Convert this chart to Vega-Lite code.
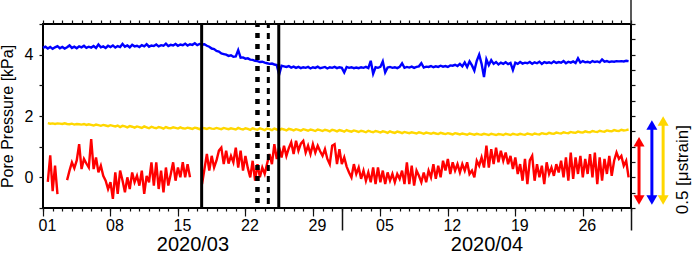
{
"$schema": "https://vega.github.io/schema/vega-lite/v6.json",
"width": 588, "height": 184,
"autosize": {"type": "none"},
"padding": {"left": 43, "top": 24, "right": 61, "bottom": 46},
"config": {
 "view": {"stroke": "black", "strokeWidth": 2},
 "axis": {"grid": false, "domain": false, "tickColor": "#111", "tickWidth": 1.2, "labelFont": "Liberation Sans", "labelFontSize": 16, "labelColor": "black", "titleFont": "Liberation Sans", "titleFontSize": 16, "titleFontWeight": "normal", "titleColor": "black", "labelFlush": false},
 "text": {"font": "Liberation Sans"}
},
"datasets": {
"series": [
{"t":"2020-03-01T00","b":4.22},
{"t":"2020-03-01T06","b":4.26},
{"t":"2020-03-01T12","r":-0.15,"b":4.2,"y":1.77},
{"t":"2020-03-01T18","r":0.72,"b":4.25,"y":1.75},
{"t":"2020-03-02T00","r":-0.45,"b":4.19,"y":1.76},
{"t":"2020-03-02T06","r":0.38,"b":4.24,"y":1.74},
{"t":"2020-03-02T12","r":-0.55,"b":4.28,"y":1.76},
{"t":"2020-03-02T18","b":4.21,"y":1.75},
{"t":"2020-03-03T00","b":4.25,"y":1.74},
{"t":"2020-03-03T06","b":4.2,"y":1.76},
{"t":"2020-03-03T12","r":-0.09,"b":4.24,"y":1.74},
{"t":"2020-03-03T18","r":0.22,"b":4.3,"y":1.73},
{"t":"2020-03-04T00","r":0.49,"b":4.22,"y":1.75},
{"t":"2020-03-04T06","r":0.3,"b":4.26,"y":1.72},
{"t":"2020-03-04T12","r":0.55,"b":4.21,"y":1.74},
{"t":"2020-03-04T18","r":1.08,"b":4.27,"y":1.73},
{"t":"2020-03-05T00","r":0.27,"b":4.24,"y":1.72},
{"t":"2020-03-05T06","r":0.6,"b":4.29,"y":1.74},
{"t":"2020-03-05T12","r":0.45,"b":4.22,"y":1.71},
{"t":"2020-03-05T18","r":0.32,"b":4.26,"y":1.73},
{"t":"2020-03-06T00","r":1.25,"b":4.23,"y":1.71},
{"t":"2020-03-06T06","r":0.27,"b":4.28,"y":1.69},
{"t":"2020-03-06T12","r":0.65,"b":4.22,"y":1.72},
{"t":"2020-03-06T18","r":0.16,"b":4.33,"y":1.7},
{"t":"2020-03-07T00","r":0.38,"b":4.24,"y":1.68},
{"t":"2020-03-07T06","r":0.05,"b":4.27,"y":1.71},
{"t":"2020-03-07T12","r":-0.11,"b":4.22,"y":1.69},
{"t":"2020-03-07T18","r":-0.38,"b":4.29,"y":1.67},
{"t":"2020-03-08T00","r":-0.16,"b":4.25,"y":1.7},
{"t":"2020-03-08T06","r":-0.7,"b":4.3,"y":1.68},
{"t":"2020-03-08T12","r":0.16,"b":4.23,"y":1.66},
{"t":"2020-03-08T18","r":-0.54,"b":4.28,"y":1.69},
{"t":"2020-03-09T00","r":0.22,"b":4.25,"y":1.64},
{"t":"2020-03-09T06","r":-0.1,"b":4.35,"y":1.68},
{"t":"2020-03-09T12","r":-0.49,"b":4.26,"y":1.66},
{"t":"2020-03-09T18","r":0,"b":4.3,"y":1.63},
{"t":"2020-03-10T00","r":-0.38,"b":4.24,"y":1.67},
{"t":"2020-03-10T06","r":0.16,"b":4.32,"y":1.65},
{"t":"2020-03-10T12","r":-0.16,"b":4.27,"y":1.62},
{"t":"2020-03-10T18","r":0.05,"b":4.29,"y":1.66},
{"t":"2020-03-11T00","r":-0.27,"b":4.25,"y":1.64},
{"t":"2020-03-11T06","r":0.22,"b":4.31,"y":1.61},
{"t":"2020-03-11T12","r":-0.54,"b":4.27,"y":1.66},
{"t":"2020-03-11T18","r":0.05,"b":4.34,"y":1.63},
{"t":"2020-03-12T00","r":-0.16,"b":4.26,"y":1.6},
{"t":"2020-03-12T06","r":0.49,"b":4.3,"y":1.65},
{"t":"2020-03-12T12","r":-0.27,"b":4.28,"y":1.62},
{"t":"2020-03-12T18","r":0.49,"b":4.33,"y":1.6},
{"t":"2020-03-13T00","r":-0.38,"b":4.27,"y":1.64},
{"t":"2020-03-13T06","r":0.22,"b":4.31,"y":1.62},
{"t":"2020-03-13T12","r":-0.49,"b":4.29,"y":1.59},
{"t":"2020-03-13T18","r":0.32,"b":4.36,"y":1.64},
{"t":"2020-03-14T00","r":-0.27,"b":4.28,"y":1.61},
{"t":"2020-03-14T06","r":0.1,"b":4.32,"y":1.6},
{"t":"2020-03-14T12","r":0.49,"b":4.3,"y":1.63},
{"t":"2020-03-14T18","r":-0.11,"b":4.35,"y":1.61},
{"t":"2020-03-15T00","r":0.32,"b":4.29,"y":1.59},
{"t":"2020-03-15T06","r":0,"b":4.33,"y":1.63},
{"t":"2020-03-15T12","r":0.49,"b":4.31,"y":1.6},
{"t":"2020-03-15T18","r":0,"b":4.36,"y":1.59},
{"t":"2020-03-16T00","r":0.43,"b":4.3,"y":1.62},
{"t":"2020-03-16T06","r":0,"b":4.34,"y":1.6},
{"t":"2020-03-16T12","b":4.32,"y":1.58},
{"t":"2020-03-16T18","b":4.37,"y":1.62},
{"t":"2020-03-17T00","b":4.31,"y":1.6},
{"t":"2020-03-17T06","b":4.35,"y":1.57},
{"t":"2020-03-17T12","r":-0.22,"b":4.33,"y":1.61},
{"t":"2020-03-17T18","r":0.27,"b":4.34,"y":1.6},
{"t":"2020-03-18T00","r":0.76,"b":4.29,"y":1.58},
{"t":"2020-03-18T06","r":0.22,"b":4.26,"y":1.61},
{"t":"2020-03-18T12","r":0.7,"b":4.2,"y":1.59},
{"t":"2020-03-18T18","r":0.32,"b":4.18,"y":1.58},
{"t":"2020-03-19T00","r":0.55,"b":4.12,"y":1.61},
{"t":"2020-03-19T06","r":0.87,"b":4.1,"y":1.59},
{"t":"2020-03-19T12","r":0.97,"b":4.04,"y":1.57},
{"t":"2020-03-19T18","r":0.43,"b":4.02,"y":1.61},
{"t":"2020-03-20T00","r":0.87,"b":4.0,"y":1.59},
{"t":"2020-03-20T06","r":0.45,"b":3.96,"y":1.57},
{"t":"2020-03-20T12","r":0.7,"b":3.98,"y":1.6},
{"t":"2020-03-20T18","r":0.49,"b":3.93,"y":1.58},
{"t":"2020-03-21T00","r":0.97,"b":3.94,"y":1.56},
{"t":"2020-03-21T06","r":0.32,"b":4.15,"y":1.61},
{"t":"2020-03-21T12","r":0.87,"b":3.9,"y":1.58},
{"t":"2020-03-21T18","r":0.22,"b":3.91,"y":1.56},
{"t":"2020-03-22T00","r":0.7,"b":3.87,"y":1.6},
{"t":"2020-03-22T06","r":0.3,"b":3.88,"y":1.58},
{"t":"2020-03-22T12","r":0,"b":3.84,"y":1.55},
{"t":"2020-03-22T18","r":0.54,"b":3.83,"y":1.6},
{"t":"2020-03-23T00","r":-0.11,"b":3.8,"y":1.57},
{"t":"2020-03-23T06","r":0.43,"b":3.79,"y":1.55},
{"t":"2020-03-23T12","r":0,"b":3.76,"y":1.6},
{"t":"2020-03-23T18","r":0.32,"b":3.77,"y":1.57},
{"t":"2020-03-24T00","r":0.11,"b":3.74,"y":1.54},
{"t":"2020-03-24T06","r":0.45,"b":3.72,"y":1.59},
{"t":"2020-03-24T12","r":0.76,"b":3.7,"y":1.57},
{"t":"2020-03-24T18","r":0.43,"b":3.71,"y":1.54},
{"t":"2020-03-25T00","r":1.08,"b":3.68,"y":1.59},
{"t":"2020-03-25T06","r":0.6,"b":3.66,"y":1.56},
{"t":"2020-03-25T12","r":0.97,"b":3.35,"y":1.54},
{"t":"2020-03-25T18","r":0.65,"b":3.64,"y":1.58},
{"t":"2020-03-26T00","r":1.03,"b":3.62,"y":1.56},
{"t":"2020-03-26T06","r":0.7,"b":3.6,"y":1.53},
{"t":"2020-03-26T12","r":0.95,"b":3.63,"y":1.58},
{"t":"2020-03-26T18","r":1.14,"b":3.58,"y":1.56},
{"t":"2020-03-27T00","r":0.76,"b":3.61,"y":1.53},
{"t":"2020-03-27T06","r":1.19,"b":3.57,"y":1.57},
{"t":"2020-03-27T12","r":0.87,"b":3.6,"y":1.55},
{"t":"2020-03-27T18","r":1.1,"b":3.56,"y":1.52},
{"t":"2020-03-28T00","r":1.19,"b":3.59,"y":1.57},
{"t":"2020-03-28T06","r":0.81,"b":3.57,"y":1.55},
{"t":"2020-03-28T12","r":1.03,"b":3.6,"y":1.52},
{"t":"2020-03-28T18","r":0.76,"b":3.55,"y":1.56},
{"t":"2020-03-29T00","r":1.08,"b":3.59,"y":1.54},
{"t":"2020-03-29T06","r":0.81,"b":3.57,"y":1.51},
{"t":"2020-03-29T12","r":1.03,"b":3.61,"y":1.56},
{"t":"2020-03-29T18","r":0.85,"b":3.56,"y":1.54},
{"t":"2020-03-30T00","r":0.7,"b":3.58,"y":1.51},
{"t":"2020-03-30T06","r":0.92,"b":3.6,"y":1.55},
{"t":"2020-03-30T12","r":0.6,"b":3.55,"y":1.53},
{"t":"2020-03-30T18","r":0.43,"b":3.59,"y":1.5},
{"t":"2020-03-31T00","r":1.03,"b":3.57,"y":1.55},
{"t":"2020-03-31T06","r":1.08,"b":3.6,"y":1.53},
{"t":"2020-03-31T12","r":0.43,"b":3.56,"y":1.5},
{"t":"2020-03-31T18","r":0.92,"b":3.59,"y":1.54},
{"t":"2020-04-01T00","r":0.43,"b":3.57,"y":1.52},
{"t":"2020-04-01T06","r":0.65,"b":3.42,"y":1.49},
{"t":"2020-04-01T12","r":0.35,"b":3.6,"y":1.54},
{"t":"2020-04-01T18","r":0.16,"b":3.57,"y":1.51},
{"t":"2020-04-02T00","r":0,"b":3.59,"y":1.49},
{"t":"2020-04-02T06","r":0.43,"b":3.56,"y":1.53},
{"t":"2020-04-02T12","r":0.11,"b":3.58,"y":1.51},
{"t":"2020-04-02T18","r":0.32,"b":3.56,"y":1.48},
{"t":"2020-04-03T00","r":-0.05,"b":3.59,"y":1.52},
{"t":"2020-04-03T06","r":0.22,"b":3.57,"y":1.5},
{"t":"2020-04-03T12","r":-0.11,"b":3.6,"y":1.47},
{"t":"2020-04-03T18","r":0.16,"b":3.56,"y":1.52},
{"t":"2020-04-04T00","r":-0.16,"b":3.8,"y":1.49},
{"t":"2020-04-04T06","r":0.32,"b":3.38,"y":1.47},
{"t":"2020-04-04T12","r":-0.22,"b":3.59,"y":1.51},
{"t":"2020-04-04T18","r":0.32,"b":3.57,"y":1.49},
{"t":"2020-04-05T00","r":-0.16,"b":3.6,"y":1.46},
{"t":"2020-04-05T06","r":0.22,"b":3.78,"y":1.5},
{"t":"2020-04-05T12","r":-0.22,"b":3.42,"y":1.48},
{"t":"2020-04-05T18","r":0.16,"b":3.58,"y":1.45},
{"t":"2020-04-06T00","r":-0.11,"b":3.6,"y":1.5},
{"t":"2020-04-06T06","r":0.11,"b":3.57,"y":1.47},
{"t":"2020-04-06T12","r":-0.16,"b":3.59,"y":1.45},
{"t":"2020-04-06T18","r":0.11,"b":3.56,"y":1.49},
{"t":"2020-04-07T00","r":-0.05,"b":3.6,"y":1.47},
{"t":"2020-04-07T06","r":0.22,"b":3.72,"y":1.44},
{"t":"2020-04-07T12","r":-0.22,"b":3.57,"y":1.48},
{"t":"2020-04-07T18","r":0.49,"b":3.6,"y":1.46},
{"t":"2020-04-08T00","r":-0.22,"b":3.58,"y":1.44},
{"t":"2020-04-08T06","r":0.38,"b":3.61,"y":1.47},
{"t":"2020-04-08T12","r":-0.27,"b":3.57,"y":1.45},
{"t":"2020-04-08T18","r":0.22,"b":3.6,"y":1.43},
{"t":"2020-04-09T00","r":0.05,"b":3.62,"y":1.47},
{"t":"2020-04-09T06","r":-0.16,"b":3.72,"y":1.45},
{"t":"2020-04-09T12","r":0.16,"b":3.58,"y":1.42},
{"t":"2020-04-09T18","r":-0.16,"b":3.61,"y":1.46},
{"t":"2020-04-10T00","r":0.22,"b":3.6,"y":1.44},
{"t":"2020-04-10T06","r":0,"b":3.63,"y":1.42},
{"t":"2020-04-10T12","r":0.43,"b":3.59,"y":1.45},
{"t":"2020-04-10T18","r":-0.05,"b":3.62,"y":1.43},
{"t":"2020-04-11T00","r":0.38,"b":3.6,"y":1.41},
{"t":"2020-04-11T06","r":0,"b":3.64,"y":1.45},
{"t":"2020-04-11T12","r":0.54,"b":3.61,"y":1.43},
{"t":"2020-04-11T18","r":0.22,"b":3.63,"y":1.41},
{"t":"2020-04-12T00","r":0.6,"b":3.6,"y":1.44},
{"t":"2020-04-12T06","r":0.11,"b":3.65,"y":1.42},
{"t":"2020-04-12T12","r":0.49,"b":3.64,"y":1.4},
{"t":"2020-04-12T18","r":0.22,"b":3.67,"y":1.44},
{"t":"2020-04-13T00","r":0.43,"b":3.63,"y":1.42},
{"t":"2020-04-13T06","r":0.16,"b":3.7,"y":1.4},
{"t":"2020-04-13T12","r":0.43,"b":3.62,"y":1.43},
{"t":"2020-04-13T18","r":0.22,"b":3.75,"y":1.41},
{"t":"2020-04-14T00","r":0.49,"b":3.6,"y":1.39},
{"t":"2020-04-14T06","r":0.11,"b":3.78,"y":1.43},
{"t":"2020-04-14T12","r":0.22,"b":3.65,"y":1.41},
{"t":"2020-04-14T18","r":0,"b":3.48,"y":1.39},
{"t":"2020-04-15T00","r":0.54,"b":3.8,"y":1.42},
{"t":"2020-04-15T06","r":0.38,"b":4.0,"y":1.4},
{"t":"2020-04-15T12","r":0.65,"b":3.7,"y":1.39},
{"t":"2020-04-15T18","r":0.32,"b":3.27,"y":1.42},
{"t":"2020-04-16T00","r":1.03,"b":3.85,"y":1.4},
{"t":"2020-04-16T06","r":0.32,"b":3.66,"y":1.38},
{"t":"2020-04-16T12","r":0.92,"b":3.82,"y":1.42},
{"t":"2020-04-16T18","r":0.43,"b":3.7,"y":1.4},
{"t":"2020-04-17T00","r":0.97,"b":3.76,"y":1.38},
{"t":"2020-04-17T06","r":0.49,"b":3.68,"y":1.41},
{"t":"2020-04-17T12","r":0.87,"b":3.74,"y":1.4},
{"t":"2020-04-17T18","r":0.54,"b":3.7,"y":1.38},
{"t":"2020-04-18T00","r":0.81,"b":3.75,"y":1.42},
{"t":"2020-04-18T06","r":0.43,"b":3.69,"y":1.4},
{"t":"2020-04-18T12","r":0.7,"b":3.73,"y":1.38},
{"t":"2020-04-18T18","r":0.27,"b":3.5,"y":1.42},
{"t":"2020-04-19T00","r":0.65,"b":3.74,"y":1.4},
{"t":"2020-04-19T06","r":0.11,"b":3.7,"y":1.39},
{"t":"2020-04-19T12","r":0.43,"b":3.76,"y":1.42},
{"t":"2020-04-19T18","r":-0.11,"b":3.71,"y":1.4},
{"t":"2020-04-20T00","r":0.6,"b":3.74,"y":1.39},
{"t":"2020-04-20T06","r":-0.22,"b":3.72,"y":1.43},
{"t":"2020-04-20T12","r":0.55,"b":3.76,"y":1.41},
{"t":"2020-04-20T18","r":0.7,"b":3.7,"y":1.39},
{"t":"2020-04-21T00","r":-0.11,"b":3.75,"y":1.43},
{"t":"2020-04-21T06","r":0.43,"b":3.72,"y":1.41},
{"t":"2020-04-21T12","r":0,"b":3.77,"y":1.4},
{"t":"2020-04-21T18","r":0.38,"b":3.7,"y":1.44},
{"t":"2020-04-22T00","r":-0.22,"b":3.76,"y":1.42},
{"t":"2020-04-22T06","r":0.49,"b":3.73,"y":1.41},
{"t":"2020-04-22T12","r":0.11,"b":3.75,"y":1.45},
{"t":"2020-04-22T18","r":0.32,"b":3.72,"y":1.43},
{"t":"2020-04-23T00","r":0.05,"b":3.78,"y":1.42},
{"t":"2020-04-23T06","r":0.43,"b":3.73,"y":1.46},
{"t":"2020-04-23T12","r":0.16,"b":3.76,"y":1.44},
{"t":"2020-04-23T18","r":0.54,"b":3.74,"y":1.43},
{"t":"2020-04-24T00","r":0,"b":3.79,"y":1.47},
{"t":"2020-04-24T06","r":0.65,"b":3.72,"y":1.45},
{"t":"2020-04-24T12","r":-0.11,"b":3.77,"y":1.44},
{"t":"2020-04-24T18","r":0.81,"b":3.74,"y":1.48},
{"t":"2020-04-25T00","r":-0.05,"b":3.78,"y":1.46},
{"t":"2020-04-25T06","r":0.65,"b":3.73,"y":1.45},
{"t":"2020-04-25T12","r":0.11,"b":3.88,"y":1.49},
{"t":"2020-04-25T18","r":0.7,"b":3.74,"y":1.47},
{"t":"2020-04-26T00","r":0,"b":3.79,"y":1.46},
{"t":"2020-04-26T06","r":0.6,"b":3.75,"y":1.5},
{"t":"2020-04-26T12","r":0.11,"b":3.77,"y":1.48},
{"t":"2020-04-26T18","r":0.76,"b":3.74,"y":1.47},
{"t":"2020-04-27T00","r":0,"b":3.79,"y":1.51},
{"t":"2020-04-27T06","r":0.81,"b":3.76,"y":1.49},
{"t":"2020-04-27T12","r":-0.22,"b":3.78,"y":1.48},
{"t":"2020-04-27T18","r":0.65,"b":3.75,"y":1.52},
{"t":"2020-04-28T00","r":-0.11,"b":3.84,"y":1.5},
{"t":"2020-04-28T06","r":0.6,"b":3.77,"y":1.49},
{"t":"2020-04-28T12","r":0.11,"b":3.79,"y":1.53},
{"t":"2020-04-28T18","r":0.7,"b":3.76,"y":1.51},
{"t":"2020-04-29T00","r":0.05,"b":3.78,"y":1.5},
{"t":"2020-04-29T06","r":0.54,"b":3.77,"y":1.54},
{"t":"2020-04-29T12","r":0.81,"b":3.79,"y":1.52},
{"t":"2020-04-29T18","r":0.6,"b":3.78,"y":1.51},
{"t":"2020-04-30T00","r":0.7,"b":3.79,"y":1.55},
{"t":"2020-04-30T06","r":0.38,"b":3.78,"y":1.53},
{"t":"2020-04-30T12","r":0.54,"b":3.8,"y":1.54},
{"t":"2020-04-30T18","r":0,"b":3.79,"y":1.56}
],
"bars": [
{"t":"2020-05-01T20:00Z","s":"r","lo":-0.9,"hi":1.32},
{"t":"2020-05-03T04:00Z","s":"b","lo":-0.9,"hi":1.87},
{"t":"2020-05-04T08:00Z","s":"y","lo":-0.9,"hi":2.0}
]
},
"resolve": {"axis": {"x": "independent", "y": "independent"}},
"layer": [
{
 "data": {"name": "series", "format": {"parse": {"t": "utc:'%Y-%m-%dT%H'"}}},
 "transform": [{"fold": ["r", "b", "y"], "as": ["key", "value"]}],
 "mark": {"type": "line", "strokeWidth": 2.4, "invalid": "break-paths-show-domains"},
 "encoding": {
  "x": {"field": "t", "type": "temporal", "scale": {"type": "utc", "domain": [{"year": 2020, "month": 3, "date": 1, "utc": true}, {"year": 2020, "month": 5, "date": 1, "utc": true}]},
        "axis": {"orient": "bottom", "title": null, "tickCount": {"interval": "day", "step": 1}, "labels": false, "tickSize": 3}},
  "y": {"field": "value", "type": "quantitative", "scale": {"domain": [-1, 5], "nice": false, "zero": false},
        "axis": {"orient": "left", "title": "Pore Pressure [kPa]", "values": [-1, -0.5, 0, 0.5, 1, 1.5, 2, 2.5, 3, 3.5, 4, 4.5, 5], "format": "d", "labelExpr": "datum.value === 0 || datum.value === 2 || datum.value === 4 ? datum.label : ''", "tickSize": 4, "labelPadding": 6, "titlePadding": 9}},
  "color": {"field": "key", "type": "nominal", "scale": {"domain": ["r", "b", "y"], "range": ["#ff0000", "#0000ff", "#ffd700"]}, "legend": null}
 }
},
{
 "data": {"values": [{"t": "2020-03-17T11:00Z", "e": "A"}, {"t": "2020-03-25T11:00Z", "e": "D"}], "format": {"parse": {"t": "date"}}},
 "mark": {"type": "rule", "strokeWidth": 3, "color": "black"},
 "encoding": {
  "x": {"field": "t", "type": "temporal", "scale": {"type": "utc", "domain": [{"year": 2020, "month": 3, "date": 1, "utc": true}, {"year": 2020, "month": 5, "date": 1, "utc": true}]},
        "axis": {"orient": "bottom", "title": null, "tickCount": {"interval": "week", "step": 1}, "format": "%d", "tickSize": 8, "labelPadding": 1, "labelOffset": 4}}
 }
},
{
 "data": {"values": [{"t": "2020-03-23T06:00Z", "e": "B"}], "format": {"parse": {"t": "date"}}},
 "mark": {"type": "rule", "strokeWidth": 4.5, "strokeDash": [5, 6], "strokeDashOffset": 2, "color": "black"},
 "encoding": {
  "x": {"field": "t", "type": "temporal", "scale": {"type": "utc", "domain": [{"year": 2020, "month": 3, "date": 1, "utc": true}, {"year": 2020, "month": 5, "date": 1, "utc": true}]},
        "axis": {"orient": "bottom", "title": null, "values": [{"year": 2020, "month": 4, "date": 1, "utc": true}, {"year": 2020, "month": 5, "date": 1, "utc": true}], "labels": false, "tickSize": 22, "tickWidth": 1.5}}
 }
},
{
 "data": {"values": [{"t": "2020-03-24T09:00Z", "e": "C"}], "format": {"parse": {"t": "date"}}},
 "mark": {"type": "rule", "strokeWidth": 3, "strokeDash": [6, 5], "strokeDashOffset": 2, "color": "black"},
 "encoding": {
  "x": {"field": "t", "type": "temporal", "scale": {"type": "utc", "domain": [{"year": 2020, "month": 3, "date": 1, "utc": true}, {"year": 2020, "month": 5, "date": 1, "utc": true}]},
        "axis": {"orient": "bottom", "title": null, "values": [{"year": 2020, "month": 3, "date": 16, "hours": 12, "utc": true}, {"year": 2020, "month": 4, "date": 16, "utc": true}], "format": "%Y/%m", "tickSize": 0, "labelPadding": 26, "labelFontSize": 20}}
 }
},
{
 "data": {"name": "bars", "format": {"parse": {"t": "date"}}},
 "mark": {"type": "rule", "strokeWidth": 3, "yOffset": -6, "y2Offset": 6},
 "encoding": {
  "x": {"field": "t", "type": "temporal", "scale": {"type": "utc", "domain": [{"year": 2020, "month": 3, "date": 1, "utc": true}, {"year": 2020, "month": 5, "date": 1, "utc": true}]}, "axis": null},
  "y": {"field": "lo", "type": "quantitative", "scale": {"domain": [-1, 5], "nice": false, "zero": false},
        "axis": {"orient": "right", "title": null, "values": [-1, -0.5, 0, 0.5, 1, 1.5, 2, 2.5, 3, 3.5, 4, 4.5, 5], "labels": false, "tickSize": 4}},
  "y2": {"field": "hi"},
  "color": {"field": "s", "type": "nominal", "scale": {"domain": ["r", "b", "y"], "range": ["#ff0000", "#0000ff", "#ffd700"]}, "legend": null}
 }
},
{
 "data": {"name": "bars", "format": {"parse": {"t": "date"}}},
 "mark": {"type": "point", "shape": "triangle-up", "size": 121, "filled": true, "opacity": 1, "yOffset": 5},
 "encoding": {
  "x": {"field": "t", "type": "temporal", "scale": {"type": "utc", "domain": [{"year": 2020, "month": 3, "date": 1, "utc": true}, {"year": 2020, "month": 5, "date": 1, "utc": true}]},
        "axis": {"orient": "top", "title": null, "tickCount": {"interval": "day", "step": 1}, "labels": false, "tickSize": 4}},
  "y": {"field": "hi", "type": "quantitative", "scale": {"domain": [-1, 5], "nice": false, "zero": false}, "axis": null},
  "color": {"field": "s", "type": "nominal", "scale": {"domain": ["r", "b", "y"], "range": ["#ff0000", "#0000ff", "#ffd700"]}, "legend": null}
 }
},
{
 "data": {"name": "bars", "format": {"parse": {"t": "date"}}},
 "mark": {"type": "point", "shape": "triangle-down", "size": 121, "filled": true, "opacity": 1, "yOffset": -5},
 "encoding": {
  "x": {"field": "t", "type": "temporal", "scale": {"type": "utc", "domain": [{"year": 2020, "month": 3, "date": 1, "utc": true}, {"year": 2020, "month": 5, "date": 1, "utc": true}]}, "axis": null},
  "y": {"field": "lo", "type": "quantitative", "scale": {"domain": [-1, 5], "nice": false, "zero": false}, "axis": null},
  "color": {"field": "s", "type": "nominal", "scale": {"domain": ["r", "b", "y"], "range": ["#ff0000", "#0000ff", "#ffd700"]}, "legend": null}
 }
},
{
 "data": {"values": [{}]},
 "mark": {"type": "rule", "strokeWidth": 1.5, "color": "#222"},
 "encoding": {
  "x": {"datum": {"year": 2020, "month": 5, "date": 1, "utc": true}, "type": "temporal", "scale": {"type": "utc", "domain": [{"year": 2020, "month": 3, "date": 1, "utc": true}, {"year": 2020, "month": 5, "date": 1, "utc": true}]}, "axis": null},
  "y": {"datum": 5, "type": "quantitative", "scale": {"domain": [-1, 5], "nice": false, "zero": false}, "axis": null},
  "y2": {"datum": 5.8}
 }
},
{
 "data": {"values": [{"t": "2020-05-06T10:00Z", "v": 0.25, "label": "0.5 [μstrain]"}], "format": {"parse": {"t": "date"}}},
 "mark": {"type": "text", "angle": 270, "fontSize": 17, "align": "center", "baseline": "middle", "color": "black"},
 "encoding": {
  "x": {"field": "t", "type": "temporal", "scale": {"type": "utc", "domain": [{"year": 2020, "month": 3, "date": 1, "utc": true}, {"year": 2020, "month": 5, "date": 1, "utc": true}]}, "axis": null},
  "y": {"field": "v", "type": "quantitative", "scale": {"domain": [-1, 5], "nice": false, "zero": false}, "axis": null},
  "text": {"field": "label"}
 }
}
]
}
